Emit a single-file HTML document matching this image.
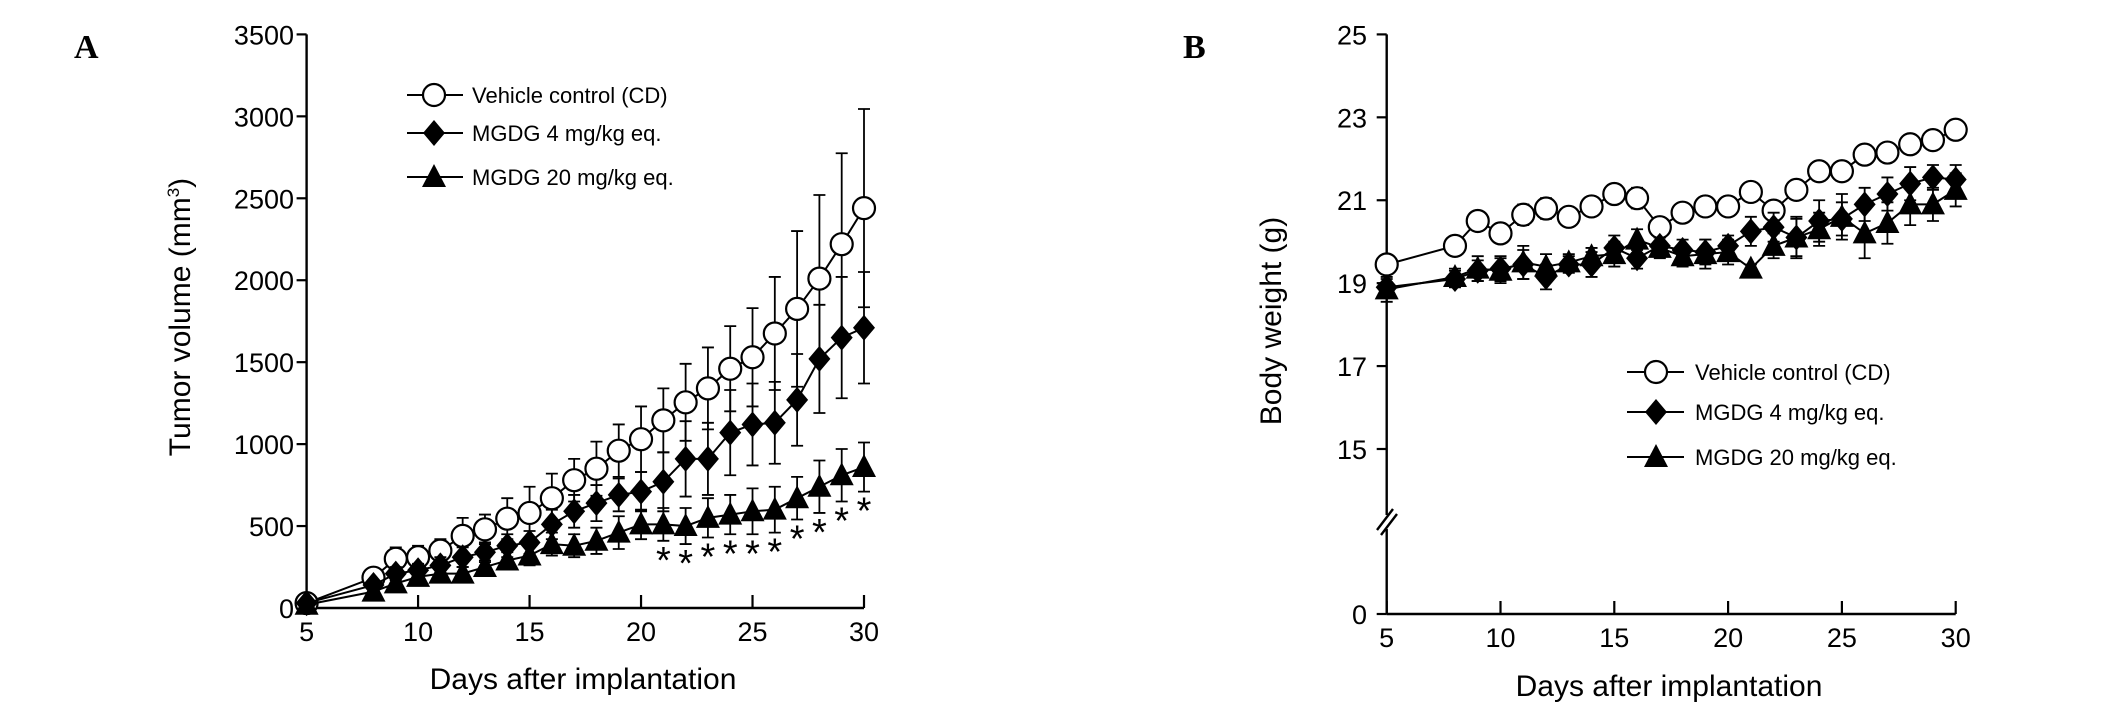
<!DOCTYPE html>
<html><head><meta charset="utf-8"><style>
html,body{margin:0;padding:0;background:#fff;}
svg{display:block;font-family:"Liberation Sans",sans-serif;}
</style></head><body>
<svg id="fig" width="2126" height="716" viewBox="0 0 2126 716" xmlns="http://www.w3.org/2000/svg"></svg>
<script>
const days=[5,8,9,10,11,12,13,14,15,16,17,18,19,20,21,22,23,24,25,26,27,28,29,30];
// Panel A tumor volume
const aVeh=[30,185,300,310,350,440,480,545,580,670,780,850,960,1030,1145,1255,1340,1460,1530,1675,1825,2010,2220,2440];
const aVehErr=[10,40,70,70,70,110,90,125,160,150,130,165,160,200,195,235,250,260,300,345,475,510,555,605];
const aM4=[30,140,210,230,260,310,340,380,400,510,590,640,690,710,770,910,910,1070,1120,1130,1270,1520,1650,1710];
const aM4Err=[10,30,40,40,50,60,60,70,70,90,100,110,100,120,180,230,220,260,250,250,280,330,370,340];
const aM20=[20,100,150,190,210,210,250,290,320,390,380,410,460,510,510,500,550,570,590,600,670,740,810,860];
const aM20Err=[10,20,30,30,40,40,40,50,60,70,70,80,100,90,100,110,120,120,140,140,130,160,160,150];
const aStarDays=[21,22,23,24,25,26,27,28,29,30];
const aYTicks=[0,500,1000,1500,2000,2500,3000,3500];
const xTicks=[5,10,15,20,25,30];
// Panel B body weight
const bVeh=[19.45,19.9,20.5,20.2,20.65,20.8,20.6,20.85,21.15,21.05,20.35,20.7,20.85,20.85,21.2,20.75,21.25,21.7,21.7,22.1,22.15,22.35,22.45,22.7];
const bVehErr=[0.15,0.2,0.15,0.2,0.25,0.25,0.2,0.2,0.15,0.25,0.15,0.2,0.15,0.15,0.15,0.15,0.15,0.2,0.15,0.15,0.2,0.15,0.15,0.2];
const bM4=[18.9,19.1,19.3,19.35,19.45,19.15,19.45,19.45,19.85,19.6,19.9,19.8,19.75,19.9,20.25,20.35,20.1,20.5,20.55,20.9,21.15,21.4,21.55,21.5];
const bM4Err=[0.2,0.2,0.25,0.3,0.35,0.3,0.2,0.3,0.3,0.25,0.2,0.25,0.3,0.25,0.35,0.35,0.45,0.5,0.4,0.4,0.4,0.4,0.3,0.35];
const bM20=[18.85,19.15,19.35,19.3,19.5,19.4,19.5,19.65,19.7,20.05,19.85,19.65,19.7,19.75,19.35,19.9,20.1,20.3,20.6,20.2,20.45,20.9,20.9,21.25];
const bM20Err=[0.3,0.2,0.3,0.3,0.4,0.3,0.2,0.2,0.3,0.25,0.25,0.25,0.35,0.3,0.1,0.3,0.5,0.4,0.55,0.6,0.5,0.5,0.4,0.4];
const bYTicks=[0,15,17,19,21,23,25];

const NS="http://www.w3.org/2000/svg";
const svg=document.getElementById('fig');
function mk(tag,attrs,parent,text){const e=document.createElementNS(NS,tag);for(const k in attrs)e.setAttribute(k,attrs[k]);if(text!==undefined)e.textContent=text;(parent||svg).appendChild(e);return e;}

function xA(d){return 306.6+(d-5)*(864-306.6)/25;}
function yA(v){return 608-v*(608-34.4)/3500;}
function xB(d){return 1386.7+(d-5)*(1955.7-1386.7)/25;}
function yB(v){return v>=15?449-(v-15)*41.46:614;}

function marker(g,type,x,y){
  let e;
  if(type==='circle'){e=mk('circle',{cx:x,cy:y,r:11,fill:'#fff',stroke:'#000','stroke-width':2.2},g);}
  else if(type==='diamond'){e=mk('polygon',{points:`${x},${y-13} ${x+11},${y} ${x},${y+13} ${x-11},${y}`,fill:'#000'},g);}
  else {e=mk('polygon',{points:`${x},${y-13} ${x+12},${y+10} ${x-12},${y+10}`,fill:'#000'},g);}
  return e;
}

function series(panel,name,type,vals,errs,fx,fy){
  const g=mk('g',{});
  
  
  days.forEach((d,i)=>{
    const x=fx(d),y1=fy(vals[i]+errs[i]),y2=fy(vals[i]-errs[i]);
    const eb=mk('path',{d:`M${x},${y1}V${y2}M${x-6},${y1}H${x+6}M${x-6},${y2}H${x+6}`,stroke:'#000','stroke-width':1.8,fill:'none'},g);
    
    
  });
  const pts=days.map((d,i)=>fx(d)+','+fy(vals[i])).join(' ');
  const ln=mk('polyline',{points:pts,fill:'none',stroke:'#000','stroke-width':2},g);
  
  
  days.forEach((d,i)=>{
    const m=marker(g,type,fx(d),fy(vals[i]));
    
    
  });
}

function axes(panel,fx,fy,yTicks,x0,y0,yTop,labelRight){
  const g=mk('g',{});
  
  
  mk('line',{x1:fx(5),y1:y0,x2:fx(30),y2:y0,stroke:'#000','stroke-width':2.4},g);
  xTicks.forEach(t=>{
    mk('line',{x1:fx(t),y1:y0,x2:fx(t),y2:y0-13,stroke:'#000','stroke-width':2.2},g);
    const tl=mk('text',{x:fx(t),y:y0+33,'font-size':27,'text-anchor':'middle'},g,String(t));
    
    
  });
  yTicks.forEach(t=>{
    const y=fy(t);
    mk('line',{x1:x0-10,y1:y,x2:x0,y2:y,stroke:'#000','stroke-width':2.2},g);
    const tl=mk('text',{x:labelRight,y:y+10,'font-size':27,'text-anchor':'end'},g,String(t));
    
    
  });
}

// Panel A
axes('a',xA,yA,aYTicks,306.6,608,34.4,294);
mk('line',{x1:306.6,y1:34.4,x2:306.6,y2:608,stroke:'#000','stroke-width':2.4});
series('a','vehicle','circle',aVeh,aVehErr,xA,yA);
series('a','mgdg4','diamond',aM4,aM4Err,xA,yA);
series('a','mgdg20','triangle',aM20,aM20Err,xA,yA);
aStarDays.forEach(d=>{
  const i=days.indexOf(d);
  const y=yA(aM20[i]-aM20Err[i])+32;
  const s=mk('text',{x:xA(d),y:y,'font-size':38,'text-anchor':'middle'},svg,'*');
  
  
});

// Panel B
axes('b',xB,yB,bYTicks,1386.7,614,34.4,1367);
mk('line',{x1:1386.7,y1:34.4,x2:1386.7,y2:515,stroke:'#000','stroke-width':2.4});
mk('line',{x1:1386.7,y1:529,x2:1386.7,y2:614,stroke:'#000','stroke-width':2.4});
const brk=mk('path',{d:'M1377,530L1393,509M1381,535L1397,514',stroke:'#000','stroke-width':2.4,fill:'none'});


series('b','vehicle','circle',bVeh,bVehErr,xB,yB);
series('b','mgdg4','diamond',bM4,bM4Err,xB,yB);
series('b','mgdg20','triangle',bM20,bM20Err,xB,yB);

// Legends
function legend(panel,lx1,lx2,mx,tx,rows){
  const names=['Vehicle control (CD)','MGDG 4 mg/kg eq.','MGDG 20 mg/kg eq.'];
  const types=['circle','diamond','triangle'];
  rows.forEach((y,i)=>{
    const g=mk('g',{});
    
    
    mk('line',{x1:lx1,y1:y,x2:lx2,y2:y,stroke:'#000','stroke-width':2},g);
    marker(g,types[i],mx,y);
    mk('text',{x:tx,y:y+8,'font-size':22},g,names[i]);
  });
}
legend('a',407,463,434,472,[95,133,177]);
legend('b',1627,1684,1656,1695,[372,412,457]);

// Titles & labels
function txt(name,attrs,t){const e=mk('text',attrs,svg,t);return e;}
txt('panel-label-a',{x:74,y:58,'font-size':34,'font-weight':'bold','font-family':'Liberation Serif, serif'},'A');
txt('panel-label-b',{x:1183,y:58,'font-size':34,'font-weight':'bold','font-family':'Liberation Serif, serif'},'B');
txt('a-x-axis-title',{x:583,y:689,'font-size':30,'text-anchor':'middle'},'Days after implantation');
txt('b-x-axis-title',{x:1669,y:696,'font-size':30,'text-anchor':'middle'},'Days after implantation');
const ya=txt('a-y-axis-title',{x:0,y:0,'font-size':30,'text-anchor':'middle',transform:'translate(190,317) rotate(-90)'},'Tumor volume (mm');
mk('tspan',{dy:-11,'font-size':17},ya,'3');
mk('tspan',{dy:11},ya,')');
txt('b-y-axis-title',{x:0,y:0,'font-size':30,'text-anchor':'middle',transform:'translate(1281,321) rotate(-90)'},'Body weight (g)');
</script>
</body></html>
